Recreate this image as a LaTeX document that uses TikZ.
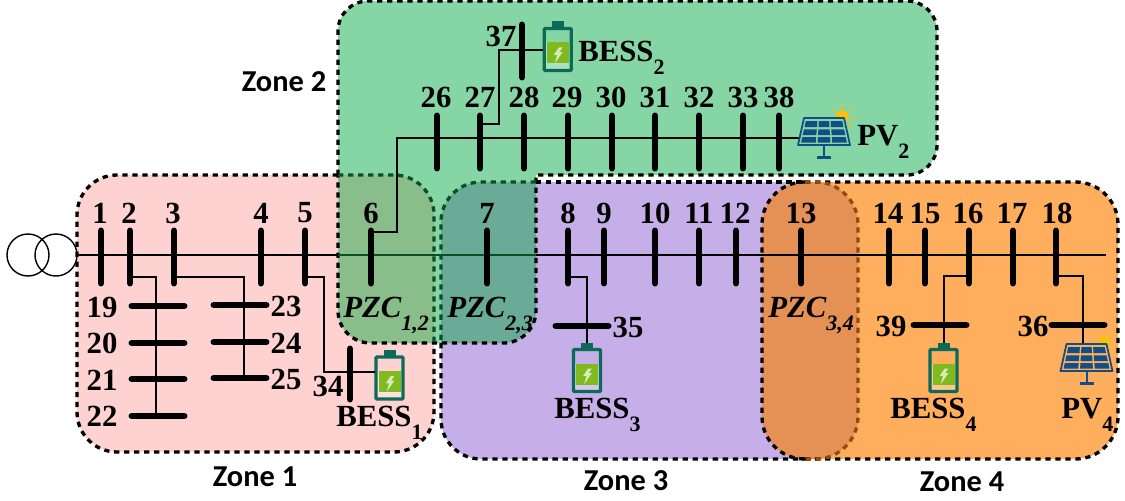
\documentclass[tikz,border=0pt]{standalone}
\usepackage{fontspec}
\setmainfont{Liberation Serif}
\newfontfamily\zonefont{Carlito}
\definecolor{zoneone}{HTML}{FFD2D2}
\definecolor{zonetwo}{HTML}{86D5A4}
\definecolor{zonethree}{HTML}{C6AEE8}
\definecolor{zonefour}{HTML}{FFAE5E}
\definecolor{pzcab}{HTML}{89BE8B}
\definecolor{pzcbc}{HTML}{69AB96}
\definecolor{pzccd}{HTML}{E59054}
\definecolor{pzcgreen}{HTML}{0B4F26}
\definecolor{pzcbrown}{HTML}{8F4E08}
\definecolor{batgreen}{HTML}{0B6B58}
\definecolor{batfill}{HTML}{7FBA1F}
\definecolor{panelblue}{HTML}{104E85}
\definecolor{sunyellow}{HTML}{FBBF0E}
\newcommand{\lowsub}[1]{\raisebox{-7.4pt}{\fontsize{12.5}{13}\selectfont #1}}
\tikzset{
	zoneline/.style={line width=1.9pt, dash pattern=on 3pt off 2.7pt},
	wire/.style={line width=1.05pt},
	vbus/.style={rectangle, fill=black, inner sep=0pt, minimum width=0.115cm, minimum height=1.18cm, rounded corners=0.057cm},
	hbus/.style={rectangle, fill=black, inner sep=0pt, minimum width=1.18cm, minimum height=0.115cm, rounded corners=0.057cm},
	num/.style={inner sep=0pt, font=\fontsize{17.5}{18}\selectfont\bfseries},
	tag/.style={inner sep=0pt, anchor=base west, font=\fontsize{17.5}{18}\selectfont\bfseries},
	pzctag/.style={tag, font=\fontsize{17.5}{18}\selectfont\bfseries\itshape},
	zonetag/.style={inner sep=0pt, font=\fontsize{17.3}{18}\selectfont\zonefont\bfseries},
	trafo/.style={circle, draw, line width=0.8pt, inner sep=0pt, minimum size=0.84cm},
	bess/.pic={
		\coordinate (-w) at (-14.5,0);
		\coordinate (-n) at (0,-28);
		\fill[batgreen] (-6,-28) rectangle (6,-22);
		\fill[white, fill opacity=0.3] (-12,-7) rectangle (12,20);
		\fill[batfill] (-11,-7) rectangle (11,14);
		\draw[batgreen, line width=1.9pt, rounded corners=0.02cm] (-13.5,-21) rectangle (13.5,21);
		\fill[white, fill opacity=0.7] (1.2,-2) -- (-3.8,5.3) -- (-0.5,5.3) -- (-2.8,13.7) -- (4.8,2.7) -- (1.5,2.7) -- (4.8,-2) -- cycle;
	},
	pvpanel/.pic={
		\coordinate (-w) at (-24,7);
		\coordinate (-n) at (0,-14);
		\fill[sunyellow] (11,-14) arc (180:390:7) -- cycle;
		\draw[sunyellow, line width=0.7pt] (18,-24) -- (18,-27);
		\draw[sunyellow, line width=0.7pt] (9.5,-21) -- (7.5,-23);
		\draw[sunyellow, line width=0.7pt] (26,-21) -- (28.5,-23);
		\draw[sunyellow, line width=0.7pt] (28,-13) -- (32,-12.5);
		\draw[sunyellow, line width=0.7pt] (24.5,-7) -- (27,-3.5);
		\draw[panelblue, line width=1pt, line join=round] (-20,-13) -- (20,-13) -- (26,14) -- (-26,14) -- cycle;
		\fill[panelblue] (-18.2,-10) -- (-6.6,-10) -- (-7,-4) -- (-19.5,-4) -- cycle;
		\fill[panelblue] (-5.1,-10) -- (5.1,-10) -- (5.5,-4) -- (-5.5,-4) -- cycle;
		\fill[panelblue] (18.2,-10) -- (6.6,-10) -- (7,-4) -- (19.5,-4) -- cycle;
		\fill[panelblue] (-20,-1.7) -- (-7.2,-1.7) -- (-7.7,4) -- (-21.3,4) -- cycle;
		\fill[panelblue] (-5.6,-1.7) -- (5.6,-1.7) -- (6,4) -- (-6,4) -- cycle;
		\fill[panelblue] (20,-1.7) -- (7.2,-1.7) -- (7.7,4) -- (21.3,4) -- cycle;
		\fill[panelblue] (-21.7,6) -- (-7.8,6) -- (-8.3,11.7) -- (-23,11.7) -- cycle;
		\fill[panelblue] (-6.1,6) -- (6.1,6) -- (6.4,11.7) -- (-6.4,11.7) -- cycle;
		\fill[panelblue] (21.7,6) -- (7.8,6) -- (8.3,11.7) -- (23,11.7) -- cycle;
		\fill[panelblue] (-1,15) rectangle (1,25);
		\fill[panelblue] (-7,25) rectangle (7,27.5);
	},
}
\begin{document}
\begin{tikzpicture}[x=0.02cm, y=-0.02cm]
	\useasboundingbox (0,0) rectangle (1125,500);
	% Zone fills
	\fill[zoneone, rounded corners=0.8cm] (77,175) rectangle (434,452);
	\fill[zonethree] (805,182) [rounded corners=0.8cm] -- (441,182) -- (441,459) [sharp corners] -- (805,459) -- cycle;
	\fill[zonefour] (805,182) [rounded corners=0.85cm] -- (1118,182) -- (1118,459) [sharp corners] -- (805,459) -- cycle;
	\fill[zonetwo] (338,175) [rounded corners=0.6cm] -- (338,1) -- (937,1) -- (937,175) [sharp corners] -- (536,175) [rounded corners=0.65cm] -- (536,343) -- (338,343) [sharp corners] -- cycle;
	% Overlaps
	\fill[pzcab] (338,175) [rounded corners=0.8cm] -- (434,175) [sharp corners] -- (434,343) [rounded corners=0.65cm] -- (338,343) [sharp corners] -- cycle;
	\fill[pzcbc] (536,182) [rounded corners=0.8cm] -- (441,182) [sharp corners] -- (441,343) [rounded corners=0.65cm] -- (536,343) [sharp corners] -- cycle;
	\fill[pzccd, rounded corners=0.85cm] (762,182) rectangle (858,459);
	% Outlines
	\draw[zoneline] (338,175) [rounded corners=0.8cm] -- (77,175) -- (77,452) -- (434,452) [sharp corners] -- (434,343);
	\draw[zoneline] (536,182) -- (805,182);
	\draw[zoneline] (441,343) [rounded corners=0.8cm] -- (441,459) [sharp corners] -- (805,459);
	\draw[zoneline] (805,182) [rounded corners=0.85cm] -- (1118,182) -- (1118,459) [sharp corners] -- (805,459);
	\draw[zoneline] (338,175) [rounded corners=0.6cm] -- (338,1) -- (937,1) -- (937,175) [sharp corners] -- (536,175) [rounded corners=0.65cm] -- (536,343) -- (338,343) [sharp corners] -- cycle;
	\draw[zoneline, pzcgreen] (338,175) [rounded corners=0.8cm] -- (434,175) [sharp corners] -- (434,343);
	\draw[zoneline, pzcgreen] (536,182) [rounded corners=0.8cm] -- (441,182) [sharp corners] -- (441,343);
	\draw[zoneline, rounded corners=0.85cm] (805,182) -- (762,182) -- (762,459) -- (805,459);
	\draw[zoneline, pzcbrown, rounded corners=0.85cm] (805,182) -- (858,182) -- (858,459) -- (805,459);
	% Transformer
	\node[trafo] (tra) at (28,255) {};
	\node[trafo] (trb) at (56,255) {};
	\coordinate (mainend) at (1106,255);
	\coordinate (pzcleft) at (338,255);
	\coordinate (pzcright) at (536,255);
	\draw[wire] (trb.east) -- (mainend);
	\draw[wire, pzcgreen] (pzcleft) -- (pzcright);
	% Main feeder buses
	\node[vbus] (b1) at (101,257) {}; \node[num] (n1) at (100,213) {1};
	\node[vbus] (b2) at (130,257) {}; \node[num] (n2) at (129,213) {2};
	\node[vbus] (b3) at (174,257) {}; \node[num] (n3) at (173,213) {3};
	\node[vbus] (b4) at (261,257) {}; \node[num] (n4) at (261,213) {4};
	\node[vbus] (b5) at (305,257) {}; \node[num] (n5) at (305,213) {5};
	\node[vbus] (b6) at (371,257) {}; \node[num] (n6) at (371,213) {6};
	\node[vbus] (b7) at (487,257) {}; \node[num] (n7) at (487,213) {7};
	\node[vbus] (b8) at (568,257) {}; \node[num] (n8) at (568,213) {8};
	\node[vbus] (b9) at (604,257) {}; \node[num] (n9) at (604,213) {9};
	\node[vbus] (b10) at (655,257) {}; \node[num] (n10) at (655,213) {10};
	\node[vbus] (b11) at (699,257) {}; \node[num] (n11) at (699,213) {11};
	\node[vbus] (b12) at (736,257) {}; \node[num] (n12) at (735,213) {12};
	\node[vbus] (b13) at (801,257) {}; \node[num] (n13) at (801,213) {13};
	\node[vbus] (b14) at (889,257) {}; \node[num] (n14) at (888,213) {14};
	\node[vbus] (b15) at (925,257) {}; \node[num] (n15) at (925,213) {15};
	\node[vbus] (b16) at (969,257) {}; \node[num] (n16) at (968,213) {16};
	\node[vbus] (b17) at (1013,257) {}; \node[num] (n17) at (1012,213) {17};
	\node[vbus] (b18) at (1056,257) {}; \node[num] (n18) at (1057,213) {18};
	% Zone 1 laterals
	\node[hbus] (b19) at (158,306) {}; \node[num] (n19) at (102,307) {19};
	\node[hbus] (b20) at (158,343) {}; \node[num] (n20) at (102,343) {20};
	\node[hbus] (b21) at (158,379) {}; \node[num] (n21) at (102,380) {21};
	\node[hbus] (b22) at (158,416) {}; \node[num] (n22) at (102,416) {22};
	\node[hbus] (b23) at (240,305) {}; \node[num] (n23) at (286,306) {23};
	\node[hbus] (b24) at (240,342) {}; \node[num] (n24) at (286,343) {24};
	\node[hbus] (b25) at (240,378) {}; \node[num] (n25) at (286,379) {25};
	\coordinate (cb) at (156,277);
	\coordinate (cc) at (244,277);
	\coordinate (ce) at (324,277);
	\draw[wire] (b2 |- cb) -- (cb) -- (cb |- b22);
	\draw[wire] (b3 |- cc) -- (cc) -- (cc |- b25);
	% BESS 1
	\node[vbus, minimum height=1.14cm] (b34) at (350,374) {}; \node[num] (n34) at (328,386) {34};
	\pic (bessa) at (389.5,378) {bess};
	\coordinate (ced) at (324,372);
	\draw[wire] (b5 |- ce) -- (ce) -- (ced) -- (ced -| bessa-w);
	\node[tag] (tbessa) at (336,426) {BESS\lowsub{1}};
	% Zone 2 branch
	\coordinate (cf) at (397,232);
	\coordinate (cg) at (397,138);
	\coordinate (linetwo) at (800,138);
	\draw[wire] (b6 |- cf) -- (cf) -- (cg) -- (linetwo);
	\node[vbus] (b26) at (437,142) {}; \node[num] (n26) at (436,97) {26};
	\node[vbus] (b27) at (480,142) {}; \node[num] (n27) at (480,97) {27};
	\node[vbus] (b28) at (524,142) {}; \node[num] (n28) at (524,97) {28};
	\node[vbus] (b29) at (568,142) {}; \node[num] (n29) at (567,97) {29};
	\node[vbus] (b30) at (612,142) {}; \node[num] (n30) at (611,97) {30};
	\node[vbus] (b31) at (655,142) {}; \node[num] (n31) at (655,97) {31};
	\node[vbus] (b32) at (699,142) {}; \node[num] (n32) at (699,97) {32};
	\node[vbus] (b33) at (743,142) {}; \node[num] (n33) at (743,97) {33};
	\node[vbus] (b38) at (779,142) {}; \node[num] (n38) at (779,97) {38};
	\pic (pvb) at (824,131) {pvpanel};
	\node[tag] (tpvb) at (857,145) {PV\lowsub{2}};
	% BESS 2
	\node[vbus] (b37) at (522,51) {}; \node[num] (n37) at (501,36) {37};
	\pic (bessb) at (557.7,49.5) {bess};
	\coordinate (ch) at (499,124);
	\coordinate (ci) at (499,50);
	\draw[wire] (b27 |- ch) -- (ch) -- (ci) -- (ci -| bessb-w);
	\node[tag] (tbessb) at (578,62) {BESS\lowsub{2}};
	% BESS 3
	\node[hbus] (b35) at (582,326) {}; \node[num] (n35) at (628,327) {35};
	\pic (bessc) at (587,370.5) {bess};
	\coordinate (cj) at (587,277);
	\draw[wire] (b8 |- cj) -- (cj) -- (cj |- bessc-n);
	\node[tag] (tbessc) at (554,418) {BESS\lowsub{3}};
	% BESS 4
	\node[hbus] (b39) at (940,325) {}; \node[num] (n39) at (891,326) {39};
	\pic (bessd) at (943.5,370.5) {bess};
	\coordinate (ck) at (944,276);
	\draw[wire] (b16 |- ck) -- (ck) -- (ck |- bessd-n);
	\node[tag] (tbessd) at (890,418) {BESS\lowsub{4}};
	% PV 4
	\node[hbus] (b36) at (1078,325) {}; \node[num] (n36) at (1033,326) {36};
	\pic (pvd) at (1086.5,357) {pvpanel};
	\coordinate (cl) at (1083,276);
	\draw[wire] (b18 |- cl) -- (cl) -- (cl |- pvd-n);
	\node[tag] (tpvd) at (1061,418) {PV\lowsub{4}};
	% Labels
	\node[pzctag] (pzcone) at (343,317) {PZC\lowsub{1,2}};
	\node[pzctag] (pzctwo) at (447,317) {PZC\lowsub{2,3}};
	\node[pzctag] (pzcthree) at (768,317) {PZC\lowsub{3,4}};
	\node[zonetag] (zone1) at (255,477) {Zone 1};
	\node[zonetag] (zone2) at (284,82) {Zone 2};
	\node[zonetag] (zone3) at (626,481) {Zone 3};
	\node[zonetag] (zone4) at (962,482) {Zone 4};
\end{tikzpicture}
\end{document}
